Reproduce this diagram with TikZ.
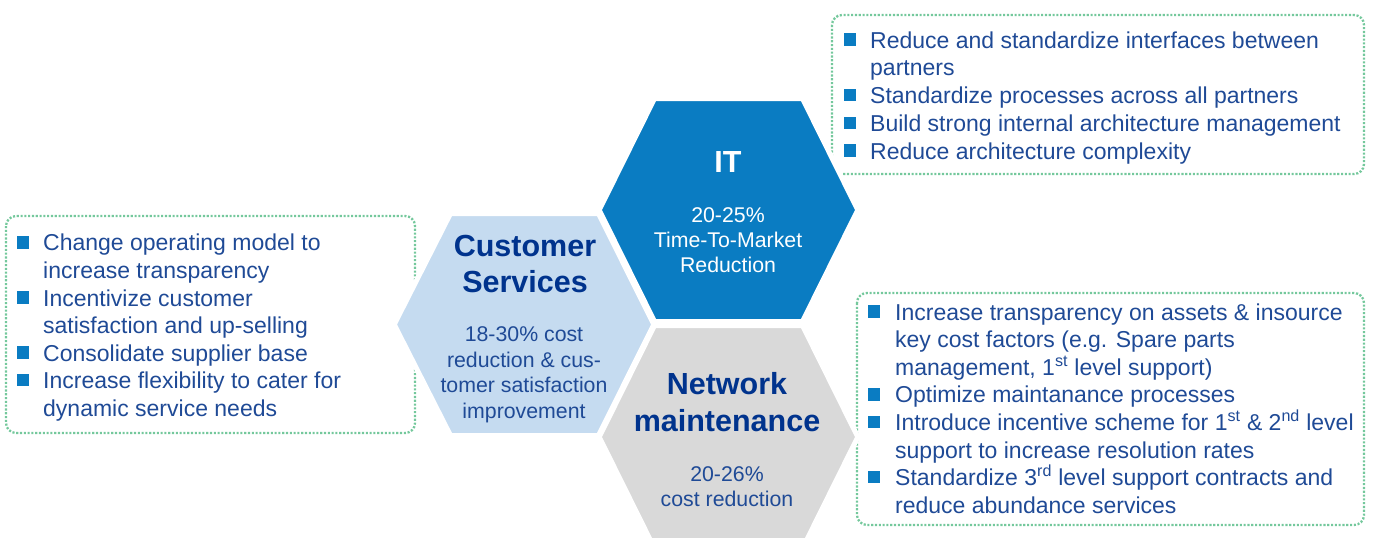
\documentclass[tikz,border=0pt]{standalone}
\usepackage{fontspec}
\setmainfont{Liberation Sans}
\definecolor{itblue}{HTML}{0A7CC2}
\definecolor{csblue}{HTML}{C5DBF0}
\definecolor{nmgray}{HTML}{D9D9D9}
\definecolor{titleblue}{HTML}{00338D}
\definecolor{bodyblue}{HTML}{1F4A96}
\definecolor{dotgreen}{HTML}{74C89C}
\begin{document}
\begin{tikzpicture}[x=1pt,y=-1pt,
  dotbox/.style={draw=dotgreen, line width=2.3pt, dash pattern=on 2.1pt off 1.7pt, rounded corners=10pt},
  hexshape/.style={draw=white, line width=5pt, line join=miter},
  sq/.style={fill=itblue, minimum size=12.5pt, inner sep=0pt, outer sep=0pt},
  itemtxt/.style={anchor=base west, align=left, inner sep=0pt, text=bodyblue, font=\fontsize{23}{27.6}\selectfont},
  hextitle/.style={anchor=base, align=center, inner sep=0pt, font=\fontsize{30.5}{36.5}\selectfont\bfseries},
  hexbody/.style={anchor=base, align=center, inner sep=0pt, font=\fontsize{21.3}{25.4}\selectfont}
]
\useasboundingbox (0,0) rectangle (1374,538);

% dotted boxes
\draw[dotbox] (6,216) rectangle (415,433);
\draw[dotbox] (832,15) rectangle (1364,174);
\draw[dotbox] (857,293) rectangle (1364,525);

% hexagons
\path[hexshape, fill=csblue] (450.5,213.5) -- (598.5,213.5) -- (653.8,324.5) -- (598.5,435.5) -- (450.5,435.5) -- (394.2,324.5) -- cycle;
\path[hexshape, fill=itblue] (654.5,98.5) -- (802.5,98.5) -- (857.8,210) -- (802.5,321.5) -- (654.5,321.5) -- (599.2,210) -- cycle;
\path[hexshape, fill=nmgray] (654.5,325.5) -- (802.5,325.5) -- (857.8,437) -- (802.5,548.5) -- (654.5,548.5) -- (599.2,437) -- cycle;

% hexagon texts (base anchor = last line's baseline)
\node[hextitle, text=white] (ittitle) at (728,172) {IT};
\node[hexbody, text=white] (itbody) at (728,272.8) {20-25\%\\Time-To-Market\\Reduction};
\node[hextitle, text=titleblue] (cstitle) at (525,292.5) {Customer\\Services};
\node[hexbody, text=bodyblue] (csbody) at (524,418) {18-30\% cost\\reduction \& cus-\\tomer satisfaction\\improvement};
\node[hextitle, text=titleblue] (nmtitle) at (727,431) {Network\\maintenance};
\node[hexbody, text=bodyblue] (nmbody) at (727,506.4) {20-26\%\\cost reduction};

% left box items
\node[sq] (lb1) at (23,242.5) {};
\node[itemtxt] (lt1) at (43,278.5) {Change operating model to\\increase transparency};
\node[sq] (lb2) at (23,297.5) {};
\node[itemtxt] (lt2) at (43,333.6) {Incentivize customer\\satisfaction and up-selling};
\node[sq] (lb3) at (23,352.5) {};
\node[itemtxt] (lt3) at (43,361) {Consolidate supplier base};
\node[sq] (lb4) at (23,380) {};
\node[itemtxt] (lt4) at (43,416.1) {Increase flexibility to cater for\\dynamic service needs};

% top right items
\node[sq] (rb1) at (850,39.5) {};
\node[itemtxt] (rt1) at (870,75.6) {Reduce and standardize interfaces between\\partners};
\node[sq] (rb2) at (850,95) {};
\node[itemtxt] (rt2) at (870,103.5) {Standardize processes across all partners};
\node[sq] (rb3) at (850,122.75) {};
\node[itemtxt] (rt3) at (870,131.25) {Build strong internal architecture management};
\node[sq] (rb4) at (850,150.5) {};
\node[itemtxt] (rt4) at (870,159) {Reduce architecture complexity};

% bottom right items
\node[sq] (nb1) at (874,311.5) {};
\node[itemtxt] (nt1) at (895,375.2) {Increase transparency on assets \& insource\\key cost factors (e.g. Spare parts\\management, 1\textsuperscript{st} level support)};
\node[sq] (nb2) at (874,394.3) {};
\node[itemtxt] (nt2) at (895,402.8) {Optimize maintanance processes};
\node[sq] (nb3) at (874,421.9) {};
\node[itemtxt] (nt3) at (895,458) {Introduce incentive scheme for 1\textsuperscript{st} \& 2\textsuperscript{nd} level\\support to increase resolution rates};
\node[sq] (nb4) at (874,477.1) {};
\node[itemtxt] (nt4) at (895,513.2) {Standardize 3\textsuperscript{rd} level support contracts and\\reduce abundance services};
\end{tikzpicture}
\end{document}
